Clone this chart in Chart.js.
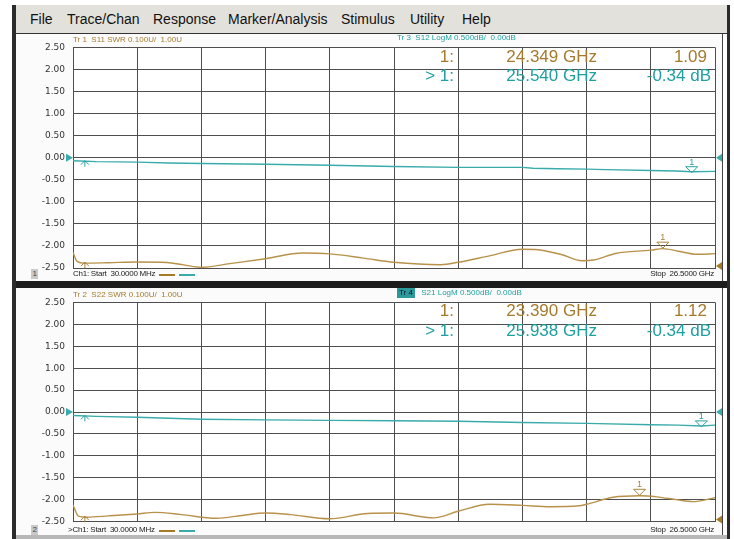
<!DOCTYPE html>
<html>
<head>
<meta charset="utf-8">
<script src="https://cdn.jsdelivr.net/npm/chart.js@4.4.1/dist/chart.umd.min.js"></script>
<style>
  body { margin: 0; width: 734px; height: 539px; background: #fff; position: relative; overflow: hidden;
         font-family: "Liberation Sans", Arial, sans-serif; }
  .a { position: absolute; white-space: pre; }
  .menu { top: 10px; font-size: 14px; line-height: 18px; color: #111; }
  .title { font-size: 8px; line-height: 10px; }
  .foot { font-size: 8px; line-height: 10px; color: #222; letter-spacing: -0.25px; }
  .ro { font-size: 17px; line-height: 20px; text-align: right; }
  .gold { color: #a57a2c; }
  .teal { color: #1f9f9f; }
  canvas { position: absolute; }
</style>
</head>
<body>
<!-- window frame -->
<div class="a" style="left:12px;top:5px;width:4px;height:534px;background:#2b2b2b"></div>
<div class="a" style="left:727px;top:5px;width:3px;height:534px;background:#2b2b2b"></div>
<div class="a" style="left:16px;top:5px;width:711px;height:28px;background:#e3e1dc"></div>
<div class="a" style="left:16px;top:33px;width:711px;height:1px;background:#333"></div>
<div class="a" style="left:16px;top:34px;width:706px;height:248px;background:#fbfbfb"></div>
<div class="a" style="left:722px;top:34px;width:1px;height:501px;background:#444"></div>
<div class="a" style="left:16px;top:281px;width:711px;height:7px;background:#1c1c1c"></div>
<div class="a" style="left:16px;top:288px;width:706px;height:247px;background:#fbfbfb"></div>
<div class="a" style="left:16px;top:535px;width:711px;height:4px;background:#b8b8b8"></div>

<div class="a menu" style="left:30px">File</div>
<div class="a menu" style="left:67px">Trace/Chan</div>
<div class="a menu" style="left:153px">Response</div>
<div class="a menu" style="left:228px">Marker/Analysis</div>
<div class="a menu" style="left:341px">Stimulus</div>
<div class="a menu" style="left:410px">Utility</div>
<div class="a menu" style="left:462px">Help</div>

<canvas id="top" width="706" height="250" style="left:16px;top:34px"></canvas>
<canvas id="bottom" width="706" height="246" style="left:16px;top:289px"></canvas>

<div id="overlay"></div>

<script>
// sweep
const freqStart = 0.03;   // GHz
const freqStop = 26.5;    // GHz

// channel 1, top window: Tr1 S11 SWR, Tr3 S12 LogM
const s11Freq = [0.03, 0.2, 0.5, 1.5, 2.68, 3.9, 4.6, 5.32, 6.5, 7.97, 9.5, 10.62, 12.0, 13.26,
  15.2, 15.91, 17.2, 18.56, 19.2, 20.2, 21.0, 21.5, 22.4, 23.85, 24.35, 25.0, 25.76, 26.5];
const s11Swr = [1.070, 1.030, 1.022, 1.024, 1.027, 1.025, 1.014, 1.003, 1.020, 1.042, 1.068, 1.064, 1.045, 1.026,
  1.015, 1.026, 1.055, 1.085, 1.083, 1.060, 1.033, 1.036, 1.066, 1.081, 1.088, 1.076, 1.062, 1.065];
const s12Freq = [0.03, 1.0, 2.68, 4.0, 5.32, 7.97, 10.62, 13.26, 15.91, 18.56, 19.0, 20.0, 21.21,
  22.0, 23.85, 24.9, 25.54, 26.5];
const s12Db = [-0.07, -0.09, -0.10, -0.12, -0.13, -0.15, -0.17, -0.20, -0.22, -0.22, -0.24, -0.25, -0.26,
  -0.27, -0.29, -0.30, -0.32, -0.31];

// channel 1, bottom window: Tr2 S22 SWR, Tr4 S21 LogM
const s22Freq = [0.03, 0.25, 0.6, 1.5, 2.68, 3.4, 4.5, 5.95, 7.0, 7.97, 9.0, 10.6, 12.18, 13.26,
  14.9, 15.91, 17.2, 18.56, 19.7, 20.9, 21.2, 22.3, 23.39, 24.1, 24.96, 25.58, 26.5];
const s22Swr = [1.076, 1.025, 1.020, 1.026, 1.035, 1.042, 1.032, 1.015, 1.028, 1.039, 1.032, 1.013, 1.037, 1.039,
  1.017, 1.047, 1.079, 1.074, 1.068, 1.072, 1.079, 1.111, 1.118, 1.113, 1.099, 1.091, 1.109];
const s21Freq = [0.03, 1.0, 2.68, 5.32, 7.97, 10.62, 13.26, 15.91, 18.56, 21.21, 23.85, 25.0, 25.94, 26.5];
const s21Db = [-0.08, -0.10, -0.12, -0.165, -0.18, -0.19, -0.20, -0.21, -0.24, -0.26, -0.29, -0.30, -0.32, -0.30];

// marker 1 readouts
const topMkFreq = [24.349, 25.540];
const topMkVal = [1.09, -0.34];
const botMkFreq = [23.390, 25.938];
const botMkVal = [1.12, -0.34];

const yTicks = [-2.5, -2.0, -1.5, -1.0, -0.5, 0, 0.5, 1.0, 1.5, 2.0, 2.5];

const GOLD = "#b8924a";
const TEAL = "#3aabab";
const GRID = "#4e4e4e";

function pts(xs, ys) {
  return xs.map((x, i) => ({ x: x, y: ys[i] }));
}

const vnaPlugin = {
  id: "vna",
  beforeDraw(chart) {
    const { ctx, chartArea: a } = chart;
    ctx.save();
    ctx.fillStyle = "#fff";
    ctx.fillRect(a.left, a.top, a.right - a.left, a.bottom - a.top);
    ctx.restore();
  },
  afterDatasetsDraw(chart, args, opts) {
    const { ctx, chartArea: a, scales } = chart;
    ctx.save();
    ctx.lineWidth = 1;
    // marker triangles
    opts.markers.forEach((m) => {
      const px = scales.x.getPixelForValue(m.freq);
      const py = scales[m.axis].getPixelForValue(m.value);
      ctx.strokeStyle = m.color;
      ctx.beginPath();
      ctx.moveTo(px, py);
      ctx.lineTo(px - 6, py - 6);
      ctx.lineTo(px + 6, py - 6);
      ctx.closePath();
      ctx.stroke();
      ctx.fillStyle = m.color;
      ctx.font = '9px "Liberation Sans"';
      ctx.textAlign = "center";
      ctx.textBaseline = "alphabetic";
      ctx.fillText("1", px, py - 8);
    });
    // small stimulus carets near the start
    opts.carets.forEach((c) => {
      const px = scales.x.getPixelForValue(c.freq);
      const py = scales[c.axis].getPixelForValue(c.value);
      ctx.strokeStyle = c.color;
      ctx.beginPath();
      ctx.moveTo(px - 4, py + 3);
      ctx.lineTo(px, py - 1);
      ctx.lineTo(px + 4, py + 3);
      ctx.moveTo(px, py - 1);
      ctx.lineTo(px, py + 5);
      ctx.stroke();
    });
    // reference level arrows
    const y0 = scales.y.getPixelForValue(0);
    const yRef = scales.y2.getPixelForValue(1.0);
    ctx.fillStyle = TEAL;
    ctx.beginPath();
    ctx.moveTo(a.left - 7, y0 - 4); ctx.lineTo(a.left, y0); ctx.lineTo(a.left - 7, y0 + 4); ctx.closePath();
    ctx.fill();
    ctx.beginPath();
    ctx.moveTo(a.right + 7, y0 - 4); ctx.lineTo(a.right + 1, y0); ctx.lineTo(a.right + 7, y0 + 4); ctx.closePath();
    ctx.fill();
    ctx.fillStyle = "#a67a22";
    ctx.beginPath();
    ctx.moveTo(a.right + 7, yRef - 6); ctx.lineTo(a.right + 1, yRef - 2); ctx.lineTo(a.right + 7, yRef + 2); ctx.closePath();
    ctx.fill();
    ctx.restore();
  }
};

function makePanel(id, swrF, swrV, dbF, dbV, mkF, mkV, padTop, padBottom) {
  return new Chart(document.getElementById(id), {
    type: "line",
    data: {
      datasets: [
        {
          data: pts(swrF, swrV), yAxisID: "y2", borderColor: GOLD, borderWidth: 1.4,
          pointRadius: 0, cubicInterpolationMode: "monotone", tension: 0.4
        },
        {
          data: pts(dbF, dbV), yAxisID: "y", borderColor: TEAL, borderWidth: 1.4,
          pointRadius: 0, tension: 0
        }
      ]
    },
    options: {
      responsive: false,
      animation: false,
      events: [],
      layout: { padding: { left: 0, right: 7, top: padTop, bottom: padBottom } },
      plugins: {
        legend: { display: false },
        tooltip: { enabled: false },
        vna: {
          markers: [
            { freq: mkF[0], value: mkV[0], axis: "y2", color: "#a8833a" },
            { freq: mkF[1], value: mkV[1], axis: "y", color: "#2a9f9f" }
          ],
          carets: [
            { freq: 0.52, value: swrV[2], axis: "y2", color: "#a8833a" },
            { freq: 0.52, value: dbV[0] - 0.02, axis: "y", color: "#2a9f9f" }
          ]
        }
      },
      scales: {
        x: {
          type: "linear", min: freqStart, max: freqStop,
          afterBuildTicks: (s) => {
            s.ticks = [];
            for (let i = 0; i <= 10; i++) s.ticks.push({ value: freqStart + i * (freqStop - freqStart) / 10 });
          },
          afterFit: (s) => { s.height = 0; },
          ticks: { display: false },
          grid: { color: GRID, lineWidth: 1, drawTicks: false },
          border: { color: GRID }
        },
        y: {
          type: "linear", min: -2.5, max: 2.5,
          afterBuildTicks: (s) => { s.ticks = yTicks.map((v) => ({ value: v })); },
          afterFit: (s) => { s.width = 57; },
          ticks: {
            callback: (v) => Number(v).toFixed(2),
            font: { family: "DejaVu Sans", size: 9 }, color: "#333", padding: 8
          },
          grid: { color: GRID, lineWidth: 1, drawTicks: false },
          border: { color: GRID }
        },
        y2: { type: "linear", min: 1.0, max: 2.0, display: false }
      }
    },
    plugins: [vnaPlugin]
  });
}

makePanel("top", s11Freq, s11Swr, s12Freq, s12Db, topMkFreq, topMkVal, 11, 16);
makePanel("bottom", s22Freq, s22Swr, s21Freq, s21Db, botMkFreq, botMkVal, 12, 11);

// text overlays: titles, footers, marker readouts
const overlay = document.getElementById("overlay");
function addText(cls, text, style) {
  const d = document.createElement("div");
  d.className = "a " + cls;
  d.textContent = text;
  d.style.cssText = style;
  overlay.appendChild(d);
  return d;
}

function panelText(yTitle, yFoot, yRow1, yRow2, tr, trDb, chLabel, num, mkF, mkV, boxed) {
  addText("title gold", tr, `left:73px;top:${yTitle - 5}px`);
  if (boxed) {
    addText("title", "Tr 4", `left:397px;top:${yTitle - 7}px;background:#2a9a9a;color:#113;padding:0 2px`);
    addText("title teal", trDb, `left:419px;top:${yTitle - 7}px`);
  } else {
    addText("title teal", trDb, `left:397px;top:${yTitle - 7}px`);
  }
  addText("foot", num, `left:31px;top:${yFoot - 5}px;width:7px;text-align:center;background:#c9c9c9;color:#444`);
  addText("foot", chLabel, `left:${num === "2" ? 68 : 73}px;top:${yFoot - 5}px`);
  addText("", "", `left:159px;top:${yFoot}px;width:16px;height:2px;background:#a67a22`);
  addText("", "", `left:179px;top:${yFoot}px;width:16px;height:2px;background:${TEAL}`);
  addText("foot", "Stop  26.5000 GHz", `right:20px;top:${yFoot - 5}px`);

  addText("ro gold", "1:", `right:280px;top:${yRow1 - 10}px`);
  addText("ro gold", mkF[0].toFixed(3) + " GHz", `right:137px;top:${yRow1 - 10}px`);
  addText("ro gold", mkV[0].toFixed(2), `right:27px;top:${yRow1 - 10}px`);
  addText("ro teal", "> 1:", `right:280px;top:${yRow2 - 10}px`);
  addText("ro teal", mkF[1].toFixed(3) + " GHz", `right:137px;top:${yRow2 - 10}px`);
  addText("ro teal", mkV[1].toFixed(2) + " dB", `right:23px;top:${yRow2 - 10}px`);
}

panelText(40, 274, 57, 76, "Tr 1  S11 SWR 0.100U/  1.00U", "Tr 3  S12 LogM 0.500dB/  0.00dB",
  "Ch1: Start  30.0000 MHz", "1", topMkFreq, topMkVal, false);
panelText(295, 530, 311, 331, "Tr 2  S22 SWR 0.100U/  1.00U", " S21 LogM 0.500dB/  0.00dB",
  ">Ch1: Start  30.0000 MHz", "2", botMkFreq, botMkVal, true);
</script>
</body>
</html>
